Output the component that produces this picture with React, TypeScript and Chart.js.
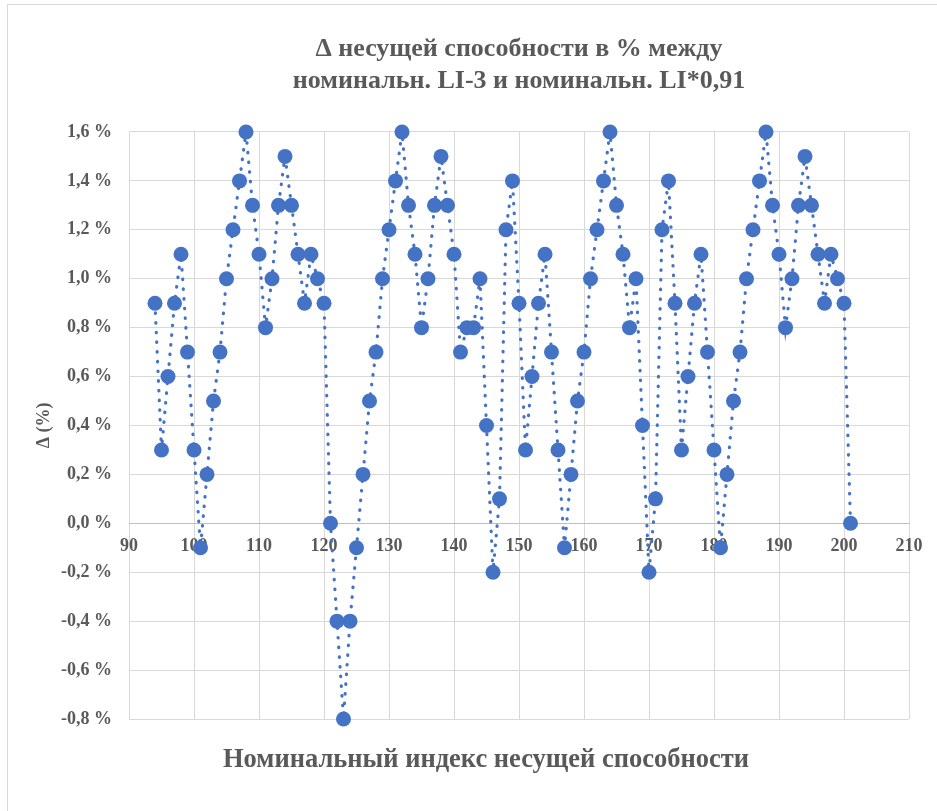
import React, { useEffect, useRef } from 'react';
import { Chart, registerables } from 'chart.js';

Chart.register(...registerables);

// ---- Data ----
const xValues = [
  94, 95, 96, 97, 98, 99, 100, 101, 102, 103,
  104, 105, 106, 107, 108, 109, 110, 111, 112, 113,
  114, 115, 116, 117, 118, 119, 120, 121, 122, 123,
  124, 125, 126, 127, 128, 129, 130, 131, 132, 133,
  134, 135, 136, 137, 138, 139, 140, 141, 142, 143,
  144, 145, 146, 147, 148, 149, 150, 151, 152, 153,
  154, 155, 156, 157, 158, 159, 160, 161, 162, 163,
  164, 165, 166, 167, 168, 169, 170, 171, 172, 173,
  174, 175, 176, 177, 178, 179, 180, 181, 182, 183,
  184, 185, 186, 187, 188, 189, 190, 191, 192, 193,
  194, 195, 196, 197, 198, 199, 200, 201,
];

const deltaValues = [
  0.9, 0.3, 0.6, 0.9, 1.1, 0.7, 0.3, -0.1, 0.2, 0.5,
  0.7, 1.0, 1.2, 1.4, 1.6, 1.3, 1.1, 0.8, 1.0, 1.3,
  1.5, 1.3, 1.1, 0.9, 1.1, 1.0, 0.9, 0.0, -0.4, -0.8,
  -0.4, -0.1, 0.2, 0.5, 0.7, 1.0, 1.2, 1.4, 1.6, 1.3,
  1.1, 0.8, 1.0, 1.3, 1.5, 1.3, 1.1, 0.7, 0.8, 0.8,
  1.0, 0.4, -0.2, 0.1, 1.2, 1.4, 0.9, 0.3, 0.6, 0.9,
  1.1, 0.7, 0.3, -0.1, 0.2, 0.5, 0.7, 1.0, 1.2, 1.4,
  1.6, 1.3, 1.1, 0.8, 1.0, 0.4, -0.2, 0.1, 1.2, 1.4,
  0.9, 0.3, 0.6, 0.9, 1.1, 0.7, 0.3, -0.1, 0.2, 0.5,
  0.7, 1.0, 1.2, 1.4, 1.6, 1.3, 1.1, 0.8, 1.0, 1.3,
  1.5, 1.3, 1.1, 0.9, 1.1, 1.0, 0.9, 0.0,
];

const xAxisRange = [90, 210];
const xAxisStep = 10;
const yAxisRange = [-0.8, 1.6];
const yAxisStep = 0.2;

const chartTitle = ['Δ несущей способности в % между', 'номинальн. LI-3 и номинальн. LI*0,91'];
const xAxisTitle = 'Номинальный индекс несущей способности';
const yAxisTitle = 'Δ (%)';

// ---- Styles ----
const FONT = '"Liberation Serif", "Times New Roman", serif';
const TEXT_COLOR = '#595959';
const GRID_COLOR = '#d9d9d9';
const SERIES_COLOR = '#4472C4';

const formatPercent = (v: number) => {
  const n = Math.abs(v) < 1e-9 ? 0 : v;
  return n.toFixed(1).replace('.', ',') + ' %';
};

const frameBorderPlugin = {
  id: 'frameBorder',
  beforeDraw(chart: any) {
    const ctx = chart.ctx;
    ctx.save();
    ctx.fillStyle = '#ffffff';
    ctx.fillRect(0, 0, chart.width, chart.height);
    ctx.strokeStyle = GRID_COLOR;
    ctx.lineWidth = 1;
    ctx.strokeRect(7.5, 4.5, 2000, 2000);
    ctx.restore();
  },
};

const xTitlePlugin = {
  id: 'xAxisTitleText',
  afterDraw(chart: any) {
    const ctx = chart.ctx;
    ctx.save();
    ctx.font = `bold 26.5px ${FONT}`;
    ctx.fillStyle = TEXT_COLOR;
    ctx.textAlign = 'center';
    ctx.textBaseline = 'middle';
    ctx.fillText(xAxisTitle, 486, 760);
    ctx.restore();
  },
};

export default function App() {
  const canvasRef = useRef<HTMLCanvasElement>(null);

  useEffect(() => {
    document.body.style.margin = '0';
    const canvas = canvasRef.current;
    if (!canvas) return;
    const points = xValues.map((x, i) => ({ x, y: deltaValues[i] }));

    const chart = new Chart(canvas, {
      type: 'scatter',
      data: {
        datasets: [
          {
            data: points,
            showLine: true,
            borderColor: SERIES_COLOR,
            borderWidth: 3.2,
            borderDash: [0.5, 9.2],
            borderCapStyle: 'round',
            pointRadius: 7.5,
            pointHoverRadius: 7.5,
            pointBackgroundColor: SERIES_COLOR,
            pointBorderColor: SERIES_COLOR,
            pointBorderWidth: 0,
            tension: 0,
            clip: false,
          } as any,
        ],
      },
      options: {
        animation: false,
        responsive: false,
        events: [],
        layout: { padding: { left: 8, right: 28, top: 0, bottom: 92 } },
        plugins: {
          legend: { display: false },
          tooltip: { enabled: false },
          title: {
            display: true,
            text: chartTitle,
            fullSize: false,
            color: TEXT_COLOR,
            font: { family: FONT, size: 26, weight: 'bold', lineHeight: 1.23 },
            padding: { top: 33, bottom: 35 },
          },
        },
        scales: {
          x: {
            type: 'linear',
            position: { y: 0 } as any,
            min: xAxisRange[0],
            max: xAxisRange[1],
            ticks: {
              stepSize: xAxisStep,
              color: TEXT_COLOR,
              font: { family: FONT, size: 18, weight: 'bold' },
              padding: 12,
              maxRotation: 0,
              autoSkip: false,
            },
            grid: { color: GRID_COLOR, lineWidth: 1, drawTicks: false },
            border: { display: true, color: '#bfbfbf', width: 1 },
          },
          y: {
            type: 'linear',
            min: yAxisRange[0],
            max: yAxisRange[1],
            ticks: {
              stepSize: yAxisStep,
              color: TEXT_COLOR,
              font: { family: FONT, size: 18, weight: 'bold' },
              padding: 17,
              callback: (v: any) => formatPercent(Number(v)),
            },
            grid: { color: GRID_COLOR, lineWidth: 1, drawTicks: false },
            border: { display: false },
            title: {
              display: true,
              text: yAxisTitle,
              color: TEXT_COLOR,
              font: { family: FONT, size: 18, weight: 'bold', lineHeight: 1.2 },
              padding: { top: 26, bottom: 0 },
            },
            afterFit: (scale: any) => {
              scale.width = 121;
            },
          },
        },
      },
      plugins: [frameBorderPlugin, xTitlePlugin],
    });

    return () => chart.destroy();
  }, []);

  return (
    <div style={{ width: 937, height: 811, position: 'relative' }}>
      <canvas ref={canvasRef} width={937} height={811} style={{ display: 'block' }} />
    </div>
  );
}
